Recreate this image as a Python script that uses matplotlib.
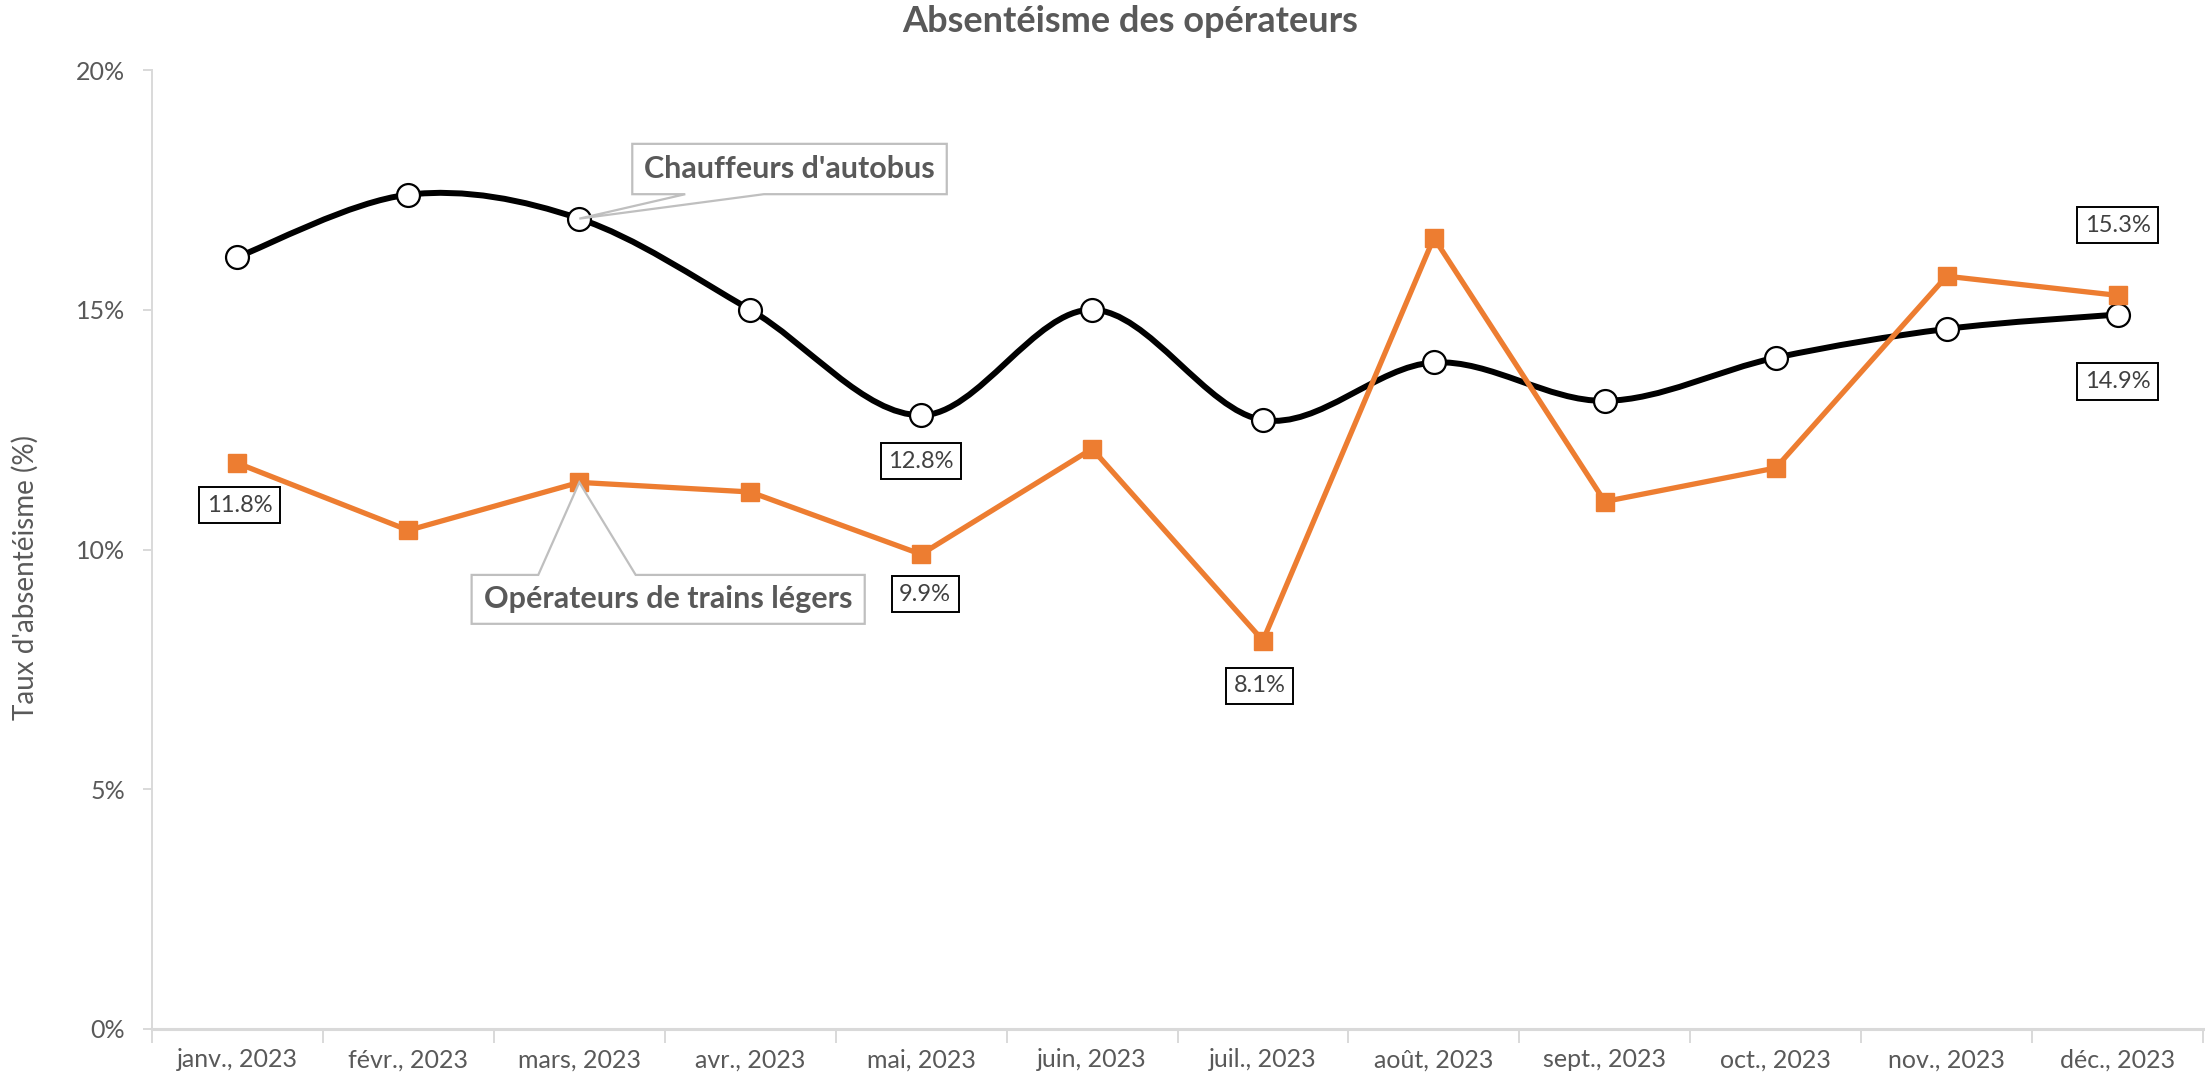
import matplotlib
matplotlib.use("Agg")
import matplotlib.pyplot as plt
from matplotlib.path import Path
from matplotlib.patches import PathPatch, Polygon
import numpy as np

plt.rcParams['font.family'] = ['Lato', 'DejaVu Sans']

months = ["janv., 2023", "févr., 2023", "mars, 2023", "avr., 2023", "mai, 2023", "juin, 2023",
          "juil., 2023", "août, 2023", "sept., 2023", "oct., 2023", "nov., 2023", "déc., 2023"]
bus = [16.1, 17.4, 16.9, 15.0, 12.8, 15.0, 12.7, 13.9, 13.1, 14.0, 14.6, 14.9]
train = [11.8, 10.4, 11.4, 11.2, 9.9, 12.1, 8.1, 16.5, 11.0, 11.7, 15.7, 15.3]
yticks = [0, 5, 10, 15, 20]
title = "Absentéisme des opérateurs"
ylabel = "Taux d'absentéisme (%)"
bus_name = "Chauffeurs d'autobus"
train_name = "Opérateurs de trains légers"

GRAY = "#595959"
AXC = "#D9D9D9"
ORANGE = "#ED7D31"

W, H = 2205, 1081
fig = plt.figure(figsize=(W / 100, H / 100), dpi=100)
ax = fig.add_axes([152 / W, (H - 1029) / H, (2203 - 152) / W, (1029 - 70) / H])
x = np.arange(len(months))
ax.set_xlim(-0.5, len(months) - 0.5)
ax.set_ylim(0, 20)

# smooth curve (Catmull-Rom -> cubic Bezier) for bus series
pts = np.column_stack([x, bus]).astype(float)
verts = [tuple(pts[0])]
codes = [Path.MOVETO]
n = len(pts)
for i in range(n - 1):
    p0 = pts[i - 1] if i > 0 else pts[i]
    p1 = pts[i]
    p2 = pts[i + 1]
    p3 = pts[i + 2] if i + 2 < n else pts[i + 1]
    c1 = p1 + (p2 - p0) / 6
    c2 = p2 - (p3 - p1) / 6
    verts += [tuple(c1), tuple(c2), tuple(p2)]
    codes += [Path.CURVE4] * 3
ax.add_patch(PathPatch(Path(verts, codes), facecolor='none', edgecolor='black', lw=4.3, zorder=3,
                       capstyle='round'))
ax.plot(x, bus, linestyle='none', marker='o', ms=16.5, mfc='white', mec='black', mew=1.6, zorder=4)

ax.plot(x, train, color=ORANGE, lw=3.8, marker='s', ms=13.5, mfc=ORANGE, mec=ORANGE, zorder=5)

# data labels
def dlabel(i, series, dy, dx=0):
    ax.annotate(f"{series[i]:.1f}%", (x[i], series[i]), xytext=(dx, dy), textcoords='offset pixels',
                ha='center', va='center', fontsize=17, color='#404040', zorder=6,
                bbox=dict(boxstyle='square,pad=0.32', fc='white', ec='black', lw=1.4))

dlabel(0, train, -42, 2)
dlabel(4, bus, -46)
dlabel(4, train, -40, 4)
dlabel(6, train, -45, -3)
dlabel(11, train, 70)
dlabel(11, bus, -67)

# series name callouts
def callout(cx0, cx1, cy0, cy1, wx0, wx1, tip, text, top_side):
    if top_side:
        poly = [(cx0, cy0), (cx0, cy1), (wx0, cy1), tip, (wx1, cy1), (cx1, cy1), (cx1, cy0)]
    else:
        poly = [(cx0, cy1), (cx0, cy0), (wx0, cy0), tip, (wx1, cy0), (cx1, cy0), (cx1, cy1)]
    ax.add_patch(Polygon(poly, closed=True, fc='white', ec='#BFBFBF', lw=1.6, zorder=6))
    ax.text((cx0 + cx1) / 2, (cy0 + cy1) / 2, text, ha='center', va='center', fontsize=22,
            fontweight='bold', color=GRAY, zorder=7)

callout(2.31, 4.15, 17.41, 18.46, 2.62, 3.08, (x[2], bus[2]), bus_name, False)
callout(1.37, 3.67, 8.45, 9.47, 1.76, 2.33, (x[2], train[2]), train_name, True)

# axes styling
for s in ['top', 'right']:
    ax.spines[s].set_visible(False)
ax.spines['left'].set_color(AXC)
ax.spines['left'].set_linewidth(1.4)
ax.spines['bottom'].set_color(AXC)
ax.spines['bottom'].set_linewidth(2.2)
ax.set_yticks(yticks)
ax.set_yticklabels([f"{v}%" for v in yticks])
ax.tick_params(axis='y', colors=AXC, labelcolor=GRAY, labelsize=18, length=6.5, width=1.4, pad=13)
ax.set_xticks(np.arange(-0.5, len(months), 1.0))
ax.set_xticklabels([])
ax.tick_params(axis='x', which='major', colors=AXC, length=10, width=1.4)
ax.set_xticks(x, minor=True)
ax.set_xticklabels(months, minor=True)
ax.tick_params(axis='x', which='minor', length=0, labelcolor=GRAY, labelsize=18, pad=14)

fig.text(25 / W, (H - 577) / H, ylabel, rotation=90, ha='center', va='center',
         fontsize=20, color=GRAY)
fig.text(1130 / W, 1 - 22 / H, title, ha='center', va='center',
         fontsize=26, fontweight='bold', color=GRAY)

fig.savefig("out.png", dpi=100, facecolor='white')
